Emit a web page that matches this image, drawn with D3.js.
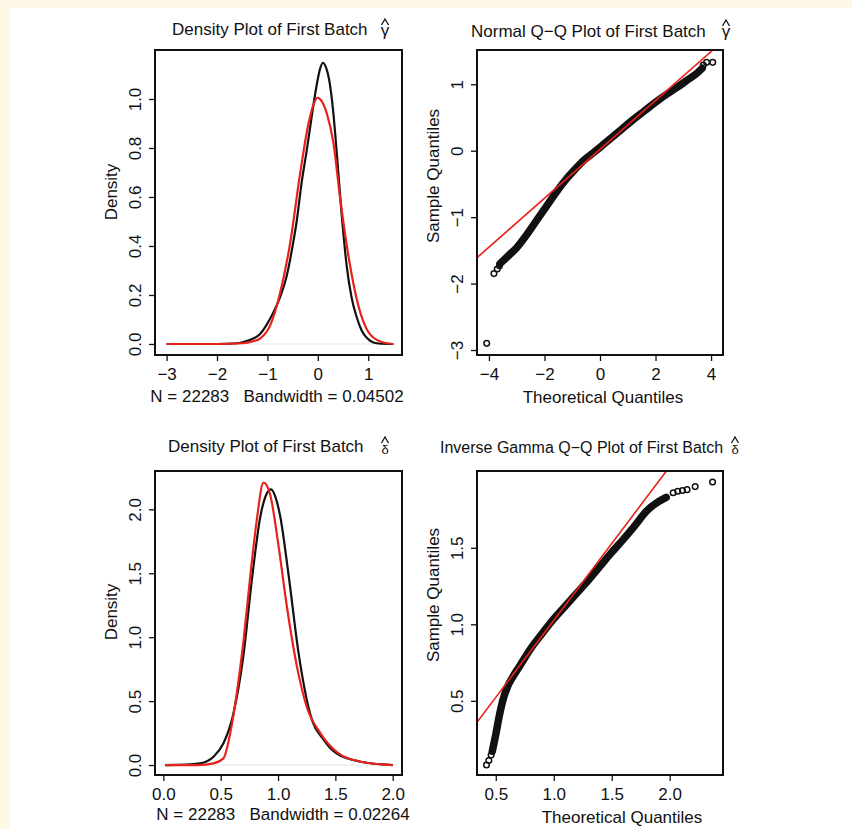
<!DOCTYPE html>
<html>
<head>
<meta charset="utf-8">
<script src="https://cdn.jsdelivr.net/npm/d3@7"></script>
<style>
  body { margin: 0; background: #fef9e6; }
  svg { display: block; }
  text { font-family: "Liberation Sans", Arial, sans-serif; fill: #111; }
</style>
</head>
<body>
<script>
// ---- data ----
// panel 1: density of gamma hat (black) and fitted normal (red)
const dens1X     = [-3.0, -2.0, -1.6, -1.48, -1.3, -1.15, -1.01, -0.88, -0.75, -0.62, -0.5, -0.42, -0.32, -0.22, -0.12, -0.02, 0.04, 0.10, 0.16, 0.24, 0.30, 0.38, 0.46, 0.575, 0.67, 0.77, 0.87, 0.97, 1.08, 1.2, 1.5];
const dens1Black = [0, 0, 0.003, 0.008, 0.02, 0.04, 0.08, 0.13, 0.19, 0.275, 0.40, 0.50, 0.66, 0.79, 0.93, 1.06, 1.12, 1.148, 1.13, 1.06, 0.96, 0.77, 0.56, 0.315, 0.19, 0.11, 0.055, 0.025, 0.008, 0.002, 0];
const dens1RedX  = [-3.0, -2.0, -1.5, -1.3, -1.14, -0.94, -0.75, -0.55, -0.35, -0.185, -0.08, -0.01, 0.08, 0.18, 0.31, 0.44, 0.61, 0.81, 1.0, 1.24, 1.49];
const dens1Red   = [0, 0, 0.003, 0.01, 0.023, 0.078, 0.207, 0.41, 0.697, 0.90, 0.98, 1.005, 0.99, 0.94, 0.82, 0.60, 0.356, 0.152, 0.05, 0.01, 0];

// panel 2: normal Q-Q of gamma hat
const qq1BandT = [-3.6, -3.3, -3.0, -2.7, -2.4, -2.1, -1.8, -1.5, -1.2, -0.9, -0.6, -0.3, 0, 0.4, 0.8, 1.2, 1.6, 2.0, 2.4, 2.8, 3.2, 3.5, 3.68];
const qq1BandS = [-1.70, -1.58, -1.46, -1.30, -1.12, -0.94, -0.76, -0.58, -0.42, -0.28, -0.15, -0.05, 0.05, 0.19, 0.33, 0.47, 0.60, 0.73, 0.85, 0.96, 1.08, 1.17, 1.24];
const qq1TailT = [-4.08, -3.82, -3.70, -3.62, 3.72, 3.84, 4.06];
const qq1TailS = [-2.90, -1.85, -1.78, -1.73, 1.29, 1.33, 1.33];
const qq1Line  = { intercept: 0.02, slope: 0.368 };

// panel 3: density of delta hat (black) and fitted inverse gamma (red)
const dens2X     = [0.015, 0.2, 0.32, 0.437, 0.524, 0.61, 0.70, 0.772, 0.845, 0.90, 0.938, 0.98, 1.02, 1.09, 1.18, 1.28, 1.40, 1.51, 1.72, 2.0];
const dens2Black = [0, 0.003, 0.013, 0.065, 0.17, 0.40, 0.87, 1.45, 1.94, 2.12, 2.156, 2.09, 1.94, 1.50, 0.87, 0.40, 0.195, 0.091, 0.026, 0];
const dens2RedX  = [0.015, 0.3, 0.437, 0.524, 0.583, 0.64, 0.70, 0.757, 0.815, 0.873, 0.93, 1.005, 1.077, 1.165, 1.25, 1.37, 1.51, 1.72, 2.0];
const dens2Red   = [0, 0, 0.013, 0.052, 0.248, 0.56, 0.98, 1.47, 1.92, 2.21, 2.12, 1.71, 1.24, 0.77, 0.456, 0.248, 0.104, 0.026, 0];

// panel 4: inverse gamma Q-Q of delta hat
const qq2BandT = [0.47, 0.50, 0.53, 0.56, 0.60, 0.65, 0.70, 0.80, 0.90, 1.00, 1.10, 1.20, 1.30, 1.40, 1.50, 1.60, 1.70, 1.80, 1.90, 1.97];
const qq2BandS = [0.17, 0.28, 0.40, 0.50, 0.59, 0.66, 0.72, 0.84, 0.94, 1.035, 1.12, 1.205, 1.29, 1.38, 1.47, 1.555, 1.645, 1.74, 1.80, 1.83];
const qq2TailT = [0.42, 0.44, 0.46, 2.03, 2.07, 2.11, 2.15, 2.22, 2.37];
const qq2TailS = [0.08, 0.11, 0.145, 1.86, 1.87, 1.875, 1.88, 1.90, 1.93];
const qq2Line  = { intercept: 0.02, slope: 1.005 };

const titles  = ["Density Plot of First Batch", "Normal Q\u2212Q Plot of First Batch",
                 "Density Plot of First Batch", "Inverse Gamma Q\u2212Q Plot of First Batch"];
const symbols = ["\u03b3", "\u03b3", "\u03b4", "\u03b4"];
const xLabels = ["N = 22283   Bandwidth = 0.04502", "Theoretical Quantiles",
                 "N = 22283   Bandwidth = 0.02264", "Theoretical Quantiles"];
const yLabels = ["Density", "Sample Quantiles", "Density", "Sample Quantiles"];
const xTicks  = [[-3, -2, -1, 0, 1], [-4, -2, 0, 2, 4], [0, 0.5, 1, 1.5, 2], [0.5, 1, 1.5, 2]];
const yTicks  = [[0, 0.2, 0.4, 0.6, 0.8, 1.0], [-3, -2, -1, 0, 1], [0, 0.5, 1, 1.5, 2], [0.5, 1, 1.5]];

// ---- layout ----
const W = 852, H = 829;
const RED = "#e8221a";
// title: [x, baseline, size, symbol x, symbol baseline, hat top, symbol size]
const panels = [
  {box: [155, 50, 402, 355],  xd: [-3.23, 1.67],  yd: [-0.045, 1.2],   xf: "d",   yf: ".1f", title: [172, 35, 17, 385, 36, 19, 17], xl: [277, 402], yl: [117, 192]},
  {box: [477, 50, 723, 355],  xd: [-4.43, 4.43],  yd: [-3.075, 1.516], xf: "d",   yf: "d",   title: [471, 37, 17, 726, 37, 20, 17], xl: [603, 403], yl: [439, 176]},
  {box: [155, 471, 402, 775], xd: [-0.073, 2.081], yd: [-0.078, 2.30], xf: ".1f", yf: ".1f", title: [168, 452, 17, 385, 454, 437, 13], xl: [283, 820], yl: [117, 612]},
  {box: [477, 471, 723, 775], xd: [0.338, 2.46],  yd: [0.015, 2.002],  xf: ".1f", yf: ".1f", title: [440, 453, 16, 735, 454, 437, 13], xl: [622, 823], yl: [439, 595]}
];

const svg = d3.select("body").append("svg").attr("width", W).attr("height", H);
svg.append("rect").attr("x", 10).attr("y", 8).attr("width", W - 10).attr("height", H - 8).attr("fill", "#fff");

const scales = panels.map(p => ({
  x: d3.scaleLinear().domain(p.xd).range([p.box[0], p.box[2]]),
  y: d3.scaleLinear().domain(p.yd).range([p.box[3], p.box[1]])
}));

panels.forEach((p, i) => {
  const {x, y} = scales[i];
  const g = svg.append("g");

  // axes, R style: outward ticks, rotated y labels
  g.append("g")
    .attr("transform", `translate(0,${p.box[3]})`)
    .call(d3.axisBottom(x).tickValues(xTicks[i]).tickSize(6).tickPadding(7).tickFormat(d3.format(p.xf)))
    .call(a => a.select(".domain").remove())
    .call(a => a.selectAll("line").attr("stroke", "#111").attr("stroke-width", 1.3))
    .call(a => a.selectAll("text").attr("font-size", 17).attr("fill", "#111"));

  g.append("g")
    .attr("transform", `translate(${p.box[0]},0)`)
    .call(d3.axisLeft(y).tickValues(yTicks[i]).tickSize(6).tickFormat(d3.format(p.yf)))
    .call(a => a.select(".domain").remove())
    .call(a => a.selectAll("line").attr("stroke", "#111").attr("stroke-width", 1.3))
    .call(a => a.selectAll("text")
      .attr("font-size", 17).attr("fill", "#111")
      .attr("transform", "rotate(-90)")
      .attr("x", 0).attr("y", -14).attr("dy", 0)
      .attr("text-anchor", "middle"));

  // title with the greek symbol, hat drawn as a small chevron above it
  const t = p.title;
  const title = g.append("text").attr("font-size", t[2]);
  title.append("tspan").attr("x", t[0]).attr("y", t[1]).text(titles[i]);
  title.append("tspan").attr("x", t[3]).attr("y", t[4]).attr("font-size", t[6])
    .attr("text-anchor", "middle").text(symbols[i]);
  g.append("path")
    .attr("d", d3.line()([[t[3] - 3.5, t[5] + 6], [t[3], t[5]], [t[3] + 3.5, t[5] + 6]]))
    .attr("fill", "none").attr("stroke", "#111").attr("stroke-width", 1.3);

  g.append("text").attr("x", p.xl[0]).attr("y", p.xl[1]).attr("font-size", 17)
    .style("white-space", "pre").attr("text-anchor", "middle").text(xLabels[i]);
  g.append("text").attr("transform", `translate(${p.yl[0]},${p.yl[1]}) rotate(-90)`)
    .attr("font-size", 17).attr("text-anchor", "middle").text(yLabels[i]);
});

// density panels
function drawDensity(i, bx, by, rx, ry) {
  const {x, y} = scales[i];
  const g = svg.append("g");
  g.append("line")
    .attr("x1", x(bx[0])).attr("x2", x(bx[bx.length - 1]))
    .attr("y1", y(0)).attr("y2", y(0))
    .attr("stroke", "#e4e4e4").attr("stroke-width", 1);
  const line = d3.line().x(d => x(d[0])).y(d => y(d[1])).curve(d3.curveMonotoneX);
  g.append("path").datum(d3.zip(bx, by)).attr("d", line)
    .attr("fill", "none").attr("stroke", "#111").attr("stroke-width", 2.2);
  g.append("path").datum(d3.zip(rx, ry)).attr("d", line)
    .attr("fill", "none").attr("stroke", RED).attr("stroke-width", 2.2);
}
drawDensity(0, dens1X, dens1Black, dens1RedX, dens1Red);
drawDensity(2, dens2X, dens2Black, dens2RedX, dens2Red);

// qq panels
function drawQQ(i, bandT, bandS, tailT, tailS, ref) {
  const {x, y} = scales[i];
  const p = panels[i];
  const g = svg.append("g");
  g.append("clipPath").attr("id", "clip" + i).append("rect")
    .attr("x", p.box[0]).attr("y", p.box[1])
    .attr("width", p.box[2] - p.box[0]).attr("height", p.box[3] - p.box[1]);
  g.append("path").datum(d3.zip(bandT, bandS))
    .attr("d", d3.line().x(d => x(d[0])).y(d => y(d[1])).curve(d3.curveMonotoneX))
    .attr("fill", "none").attr("stroke", "#111").attr("stroke-width", 7.5)
    .attr("stroke-linecap", "round");
  g.selectAll("circle.pt").data(d3.zip(tailT, tailS)).join("circle")
    .attr("class", "pt")
    .attr("cx", d => x(d[0])).attr("cy", d => y(d[1])).attr("r", 2.8)
    .attr("fill", "none").attr("stroke", "#111").attr("stroke-width", 1.5);
  const xd = x.domain();
  g.append("line").attr("clip-path", `url(#clip${i})`)
    .attr("x1", x(xd[0])).attr("y1", y(ref.intercept + ref.slope * xd[0]))
    .attr("x2", x(xd[1])).attr("y2", y(ref.intercept + ref.slope * xd[1]))
    .attr("stroke", RED).attr("stroke-width", 1.6);
}
drawQQ(1, qq1BandT, qq1BandS, qq1TailT, qq1TailS, qq1Line);
drawQQ(3, qq2BandT, qq2BandS, qq2TailT, qq2TailS, qq2Line);

// boxes on top
panels.forEach(p => {
  svg.append("rect")
    .attr("x", p.box[0]).attr("y", p.box[1])
    .attr("width", p.box[2] - p.box[0]).attr("height", p.box[3] - p.box[1])
    .attr("fill", "none").attr("stroke", "#111").attr("stroke-width", 2);
});
</script>
</body>
</html>
